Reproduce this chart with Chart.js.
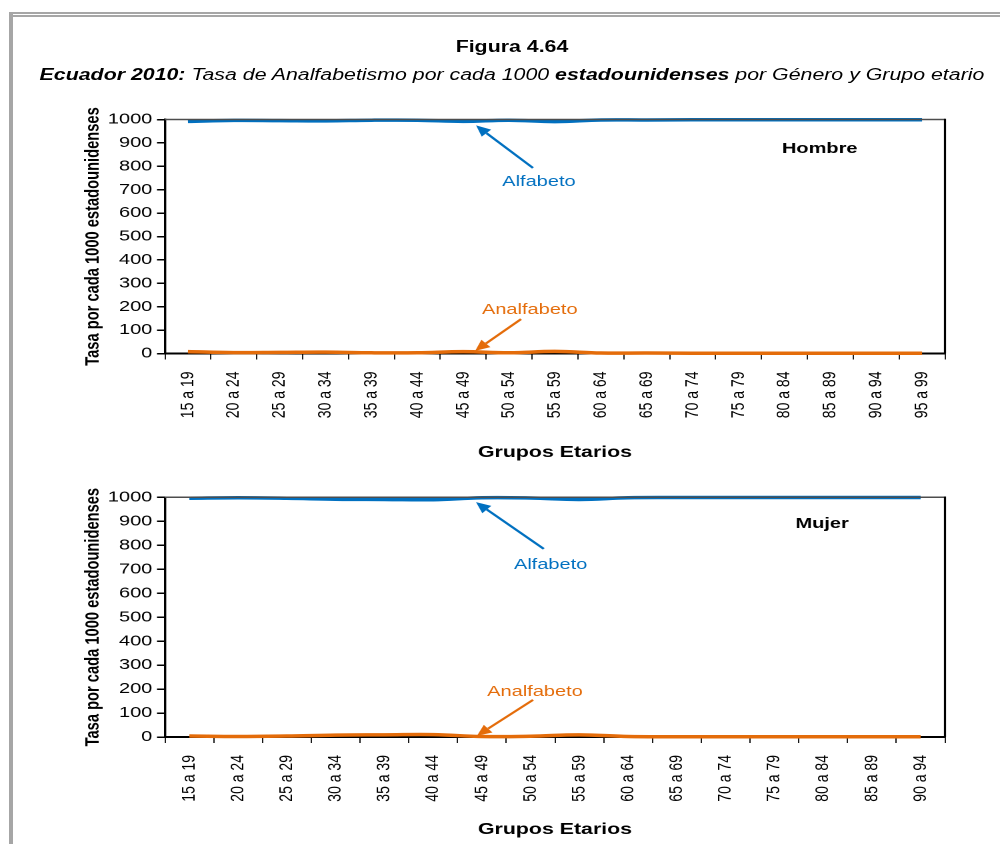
<!DOCTYPE html>
<html><head><meta charset="utf-8">
<script src="https://cdn.jsdelivr.net/npm/chart.js@4.4.1/dist/chart.umd.min.js"></script>
<style>
html,body{margin:0;padding:0;background:#fff;}
body{width:1000px;height:844px;position:relative;overflow:hidden;font-family:Arial,"Liberation Sans",sans-serif;color:#000;}
.fr{position:absolute;background:#a6a6a6;}
#stage{position:absolute;left:0;top:0;width:750px;height:844px;transform:scaleX(1.3333333);transform-origin:0 0;}
.ttl{position:absolute;left:0;width:768px;text-align:center;font-size:16px;line-height:18px;white-space:nowrap;}
canvas{position:absolute;left:0;}
</style>
</head><body>
<div class="fr" style="left:9px;top:12px;width:4px;height:832px;"></div>
<div class="fr" style="left:9px;top:12px;width:991px;height:2px;"></div>
<div class="fr" style="left:13px;top:15px;width:987px;height:2px;"></div>
<div id="stage">
  <div class="ttl" style="top:38px;font-weight:bold;">Figura 4.64</div>
  <div class="ttl" style="top:66px;font-style:italic;"><b>Ecuador 2010:</b> Tasa de Analfabetismo por cada 1000 <b>estadounidenses</b> por Género y Grupo etario</div>
  <canvas id="c1" style="top:95px;width:750px;height:375px;" width="750" height="375"></canvas>
  <canvas id="c2" style="top:478px;width:750px;height:366px;" width="750" height="366"></canvas>
</div>
<script>
// ---- data ----
const gruposHombre = ['15 a 19','20 a 24','25 a 29','30 a 34','35 a 39','40 a 44','45 a 49','50 a 54','55 a 59','60 a 64','65 a 69','70 a 74','75 a 79','80 a 84','85 a 89','90 a 94','95 a 99'];
const gruposMujer  = ['15 a 19','20 a 24','25 a 29','30 a 34','35 a 39','40 a 44','45 a 49','50 a 54','55 a 59','60 a 64','65 a 69','70 a 74','75 a 79','80 a 84','85 a 89','90 a 94'];
const alfabetoHombre   = [992, 996, 995, 994, 997, 997, 992, 997, 991, 998, 998, 999, 999, 999, 999, 999, 999];
const analfabetoHombre = [8, 4, 5, 6, 3, 3, 8, 3, 9, 2, 2, 1, 1, 1, 1, 1, 1];
const alfabetoMujer    = [996, 998, 996, 992, 991, 990, 998, 997, 991, 998, 999, 999, 999, 999, 999, 999];
const analfabetoMujer  = [4, 2, 4, 8, 9, 10, 2, 3, 9, 2, 1, 1, 1, 1, 1, 1];
const yTicks = {min: 0, max: 1000, step: 100};

// annotation anchors in data coordinates (category index, value)
const notasHombre = [
  {text:'Alfabeto', color:'blue', at:[7.65, 733], from:[7.52, 793], to:[6.28, 975]},
  {text:'Analfabeto', color:'orange', at:[7.45, 186], from:[7.26, 147], to:[6.26, 11]},
  {text:'Hombre', color:'black', bold:true, at:[13.77, 874]}
];
const notasMujer = [
  {text:'Alfabeto', color:'blue', at:[7.41, 718], from:[7.27, 785], to:[5.88, 980]},
  {text:'Analfabeto', color:'orange', at:[7.09, 189], from:[7.05, 155], to:[5.9, 5]},
  {text:'Mujer', color:'black', bold:true, at:[12.98, 889]}
];

// ---- styles ----
const FONT = "Arial, 'Liberation Sans', sans-serif";
const COL = {blue:'#0070C0', orange:'#E46C0A', black:'#000000'};

const framePlugin = {
  id:'frameBox',
  afterDatasetsDraw(chart){
    const {ctx, chartArea:a} = chart;
    ctx.save();
    ctx.strokeStyle = '#4d4d4d'; ctx.lineWidth = 1.5;
    ctx.beginPath(); ctx.moveTo(a.left, a.top); ctx.lineTo(a.right, a.top); ctx.stroke();
    ctx.strokeStyle = '#000'; ctx.lineWidth = 1.6;
    ctx.beginPath(); ctx.moveTo(a.right, a.top - 0.75); ctx.lineTo(a.right, a.bottom); ctx.stroke();
    ctx.restore();
  }
};

const notesPlugin = {
  id:'notes',
  afterDraw(chart, args, opts){
    const {ctx, scales:{x, y}} = chart;
    const P = p => [x.getPixelForValue(p[0]), y.getPixelForValue(p[1])];
    ctx.save();
    (opts.items || []).forEach(n => {
      const c = COL[n.color];
      ctx.fillStyle = c; ctx.strokeStyle = c;
      ctx.font = (n.bold ? 'bold ' : '') + '15px ' + FONT;
      ctx.textAlign = 'center'; ctx.textBaseline = 'middle';
      const t = P(n.at);
      ctx.fillText(n.text, t[0], t[1]);
      if (n.from) {
        const f = P(n.from), e = P(n.to);
        const ang = Math.atan2(e[1]-f[1], e[0]-f[0]);
        const L = 11, W = 5;
        const bx = e[0] - L*Math.cos(ang), by = e[1] - L*Math.sin(ang);
        ctx.lineWidth = 2;
        ctx.beginPath(); ctx.moveTo(f[0], f[1]); ctx.lineTo(bx, by); ctx.stroke();
        ctx.beginPath();
        ctx.moveTo(e[0], e[1]);
        ctx.lineTo(bx + W*Math.sin(ang), by - W*Math.cos(ang));
        ctx.lineTo(bx - W*Math.sin(ang), by + W*Math.cos(ang));
        ctx.closePath(); ctx.fill();
      }
    });
    ctx.restore();
  }
};

function makeChart(id, labels, alf, analf, notes, g){
  return new Chart(document.getElementById(id), {
    type:'line',
    data:{labels:labels, datasets:[
      {label:'Alfabeto', data:alf, borderColor:COL.blue, borderWidth:3.5, pointRadius:0, tension:0.4, fill:false, clip:false},
      {label:'Analfabeto', data:analf, borderColor:COL.orange, borderWidth:3.5, pointRadius:0, tension:0.4, fill:false, clip:false}
    ]},
    options:{
      responsive:false, animation:false, devicePixelRatio:2, events:[],
      layout:{padding:{left:0, right:41.25, top:g.top, bottom:g.bottom}},
      plugins:{legend:{display:false}, tooltip:{enabled:false}, notes:{items:notes}},
      scales:{
        x:{
          type:'category', offset:true,
          grid:{offset:true, drawOnChartArea:false, drawTicks:true, tickLength:6, color:'#000', lineWidth:0.9},
          border:{display:true, color:'#000', width:2},
          ticks:{autoSkip:false, minRotation:90, maxRotation:90, padding:12, color:'#000', font:{family:FONT, size:14}},
          title:{display:true, text:'Grupos Etarios', color:'#000', font:{family:FONT, size:16, weight:'bold'}, padding:{top:0, bottom:0}},
          afterFit:s => { s.height = g.xh; }
        },
        y:{
          min:yTicks.min, max:yTicks.max,
          ticks:{stepSize:yTicks.step, color:'#000', padding:3.5, font:{family:FONT, size:15}, callback:v => String(v)},
          grid:{drawOnChartArea:false, drawTicks:true, tickLength:6, color:'#000', lineWidth:1.5},
          border:{display:true, color:'#000', width:1.7},
          title:{display:true, text:'Tasa por cada 1000 estadounidenses', color:'#000', font:{family:FONT, size:14.7, weight:'bold'}, padding:{top:61, bottom:0}},
          afterFit:s => { s.width = 123.75; }
        }
      }
    },
    plugins:[framePlugin, notesPlugin]
  });
}

makeChart('c1', gruposHombre, alfabetoHombre, analfabetoHombre, notasHombre, {top:24.5, bottom:7.8, xh:108.7});
makeChart('c2', gruposMujer, alfabetoMujer, analfabetoMujer, notasMujer, {top:19.3, bottom:4.8, xh:102.2});
</script>
</body></html>
